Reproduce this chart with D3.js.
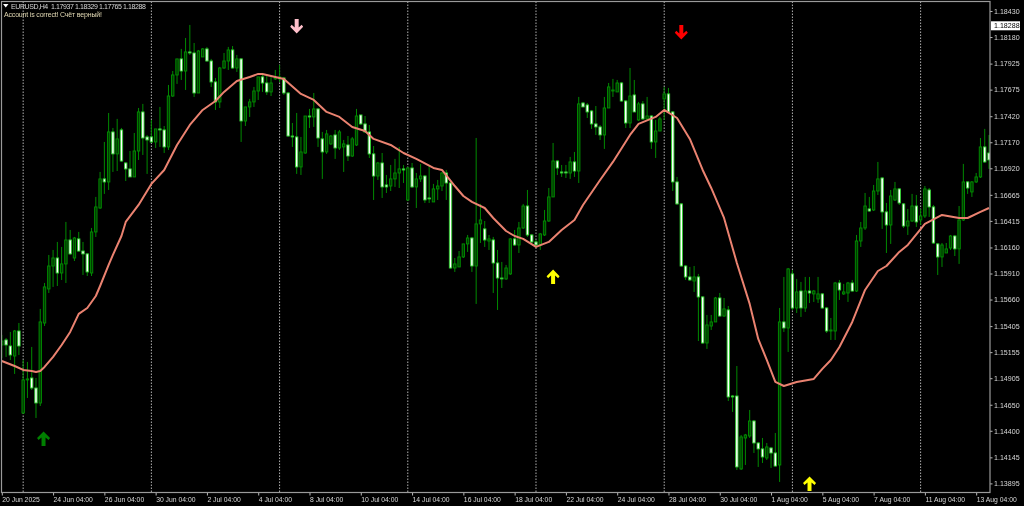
<!DOCTYPE html>
<html><head><meta charset="utf-8">
<script src="https://cdnjs.cloudflare.com/ajax/libs/d3/7.8.5/d3.min.js"></script>
<style>html,body{margin:0;padding:0;background:#000;overflow:hidden}svg{display:block;filter:blur(0.3px)}text{font-family:"Liberation Sans",sans-serif}</style>
</head><body><div id="c"></div>
<script>
const opens=[1.15224,1.15272,1.15214,1.15118,1.15358,1.14571,1.14888,1.14907,1.14811,1.14667,1.15435,1.15762,1.15982,1.16059,1.15915,1.16002,1.16232,1.16059,1.16242,1.16126,1.16098,1.15915,1.16309,1.16539,1.16818,1.16789,1.17269,1.17058,1.17288,1.16971,1.16914,1.16837,1.17086,1.17461,1.17221,1.17221,1.17173,1.17298,1.17288,1.17125,1.17614,1.17816,1.17970,1.17854,1.18037,1.18027,1.17643,1.17989,1.18066,1.17950,1.17749,1.17557,1.17883,1.17950,1.18056,1.17883,1.17970,1.17374,1.17509,1.17557,1.17662,1.17797,1.17739,1.17653,1.17778,1.17778,1.17787,1.17643,1.17230,1.17221,1.16933,1.17067,1.17422,1.17413,1.17490,1.17202,1.17077,1.17154,1.17240,1.17115,1.17125,1.17144,1.17038,1.17144,1.17432,1.17346,1.17269,1.17058,1.16846,1.16971,1.16760,1.16750,1.16818,1.16875,1.16914,1.16616,1.16923,1.16741,1.16818,1.16846,1.16635,1.16597,1.16722,1.16750,1.16875,1.16779,1.15963,1.15973,1.16069,1.16194,1.16251,1.15982,1.16386,1.16338,1.16222,1.16232,1.16011,1.15867,1.15858,1.15906,1.16242,1.16184,1.16347,1.16558,1.16280,1.16213,1.16184,1.16280,1.16414,1.16645,1.16990,1.16885,1.16885,1.16875,1.16981,1.16894,1.17547,1.17528,1.17470,1.17346,1.17317,1.17240,1.17499,1.17662,1.17653,1.17739,1.17566,1.17355,1.17624,1.17384,1.17538,1.17394,1.17422,1.17173,1.17278,1.17586,1.17634,1.17461,1.16789,1.16578,1.15982,1.15877,1.15838,1.15877,1.15685,1.15243,1.15406,1.15445,1.15675,1.15502,1.15560,1.14734,1.14734,1.14034,1.14331,1.14350,1.14494,1.14283,1.14226,1.14139,1.14235,1.14187,1.14072,1.15445,1.15387,1.15906,1.15579,1.15742,1.15579,1.15742,1.15714,1.15666,1.15714,1.15579,1.15358,1.15358,1.15819,1.15714,1.15723,1.15819,1.15742,1.16222,1.16347,1.16530,1.16520,1.16702,1.16827,1.16501,1.16376,1.16616,1.16722,1.16578,1.16366,1.16414,1.16558,1.16424,1.16462,1.16712,1.16549,1.16194,1.16069,1.16107,1.16155,1.16270,1.16146,1.16424,1.16789,1.16693,1.16789,1.16837,1.17125,1.17067];
const highs=[1.15320,1.15291,1.15349,1.15368,1.15435,1.15080,1.15061,1.15205,1.14907,1.15570,1.15819,1.16088,1.16136,1.16213,1.16165,1.16405,1.16328,1.16261,1.16309,1.16213,1.16107,1.16347,1.16645,1.16885,1.17173,1.17451,1.17307,1.17394,1.17307,1.16981,1.17086,1.17259,1.17499,1.17538,1.17240,1.17384,1.17298,1.17509,1.17326,1.17720,1.17854,1.17970,1.18066,1.18171,1.18296,1.18123,1.18056,1.18075,1.18085,1.17970,1.17787,1.17893,1.18027,1.18085,1.18094,1.18008,1.17979,1.17509,1.17586,1.17701,1.17797,1.17835,1.17816,1.17797,1.17864,1.17912,1.17797,1.17653,1.17355,1.17451,1.17221,1.17422,1.17490,1.17643,1.17499,1.17269,1.17288,1.17240,1.17288,1.17288,1.17192,1.17230,1.17221,1.17490,1.17432,1.17422,1.17336,1.17134,1.16981,1.17067,1.16856,1.16952,1.17010,1.17125,1.16952,1.16933,1.16971,1.16875,1.16962,1.16856,1.16942,1.16770,1.16808,1.16885,1.16904,1.16789,1.16059,1.16126,1.16194,1.16280,1.16261,1.17211,1.16578,1.16414,1.16280,1.16261,1.16136,1.16021,1.15992,1.16251,1.16328,1.16405,1.16578,1.16712,1.16290,1.16232,1.16299,1.16520,1.16731,1.17163,1.17000,1.16952,1.16952,1.17029,1.17077,1.17605,1.17557,1.17547,1.17480,1.17518,1.17336,1.17605,1.17739,1.17778,1.17768,1.17749,1.17576,1.17883,1.17768,1.17557,1.17566,1.17605,1.17432,1.17384,1.17413,1.17701,1.17691,1.17470,1.16837,1.16587,1.15992,1.15973,1.15982,1.15906,1.15694,1.15512,1.15512,1.15685,1.15723,1.15675,1.15598,1.14744,1.15022,1.14360,1.14370,1.14600,1.14504,1.14293,1.14331,1.14283,1.14245,1.14379,1.15579,1.15877,1.15963,1.15944,1.15858,1.15829,1.15877,1.15877,1.15752,1.15877,1.15723,1.15589,1.15483,1.15829,1.15848,1.15810,1.15829,1.15848,1.16280,1.16405,1.16683,1.16645,1.16760,1.16981,1.16837,1.16587,1.16712,1.16789,1.16731,1.16587,1.16530,1.16674,1.16664,1.16530,1.16750,1.16731,1.16568,1.16203,1.16203,1.16203,1.16280,1.16280,1.16558,1.16962,1.16798,1.16798,1.16875,1.17211,1.17298,1.17240];
const lows=[1.15099,1.15109,1.15080,1.14946,1.15128,1.14562,1.14715,1.14792,1.14523,1.14638,1.15406,1.15723,1.15781,1.15790,1.15848,1.15819,1.16088,1.16030,1.16117,1.15896,1.15886,1.15886,1.16261,1.16530,1.16674,1.16712,1.16885,1.16894,1.16981,1.16798,1.16837,1.16837,1.17000,1.17048,1.16866,1.17163,1.17115,1.17125,1.17067,1.17096,1.17605,1.17730,1.17768,1.17672,1.18008,1.17605,1.17643,1.17989,1.17941,1.17701,1.17480,1.17499,1.17874,1.17864,1.17874,1.17845,1.17173,1.17326,1.17413,1.17509,1.17576,1.17653,1.17624,1.17614,1.17768,1.17749,1.17624,1.17221,1.17125,1.16866,1.16856,1.17058,1.17307,1.17317,1.17125,1.16818,1.17058,1.17144,1.17010,1.17096,1.16885,1.16990,1.17029,1.17134,1.17336,1.17259,1.17019,1.16616,1.16808,1.16635,1.16683,1.16702,1.16741,1.16731,1.16779,1.16606,1.16731,1.16539,1.16789,1.16587,1.16587,1.16597,1.16616,1.16702,1.16616,1.15954,1.15925,1.15973,1.16059,1.16117,1.15925,1.15618,1.16203,1.16165,1.16136,1.15723,1.15560,1.15771,1.15848,1.15896,1.16174,1.16107,1.16338,1.16261,1.16203,1.16165,1.16136,1.16270,1.16405,1.16645,1.16856,1.16837,1.16827,1.16818,1.16837,1.16779,1.17509,1.17403,1.17298,1.17240,1.17192,1.17106,1.17499,1.17605,1.17653,1.17557,1.17307,1.17307,1.17461,1.17374,1.17384,1.17384,1.17106,1.17019,1.17278,1.17384,1.17451,1.16702,1.16568,1.15973,1.15848,1.15838,1.15733,1.15262,1.15234,1.15186,1.15368,1.15445,1.15493,1.15493,1.14686,1.14581,1.14024,1.14024,1.14072,1.14331,1.14187,1.14053,1.14091,1.14120,1.14043,1.14053,1.13909,1.15349,1.15157,1.15560,1.15531,1.15493,1.15541,1.15627,1.15637,1.15627,1.15570,1.15339,1.15272,1.15272,1.15656,1.15704,1.15637,1.15733,1.15733,1.16165,1.16328,1.16501,1.16510,1.16664,1.16338,1.16107,1.16194,1.16606,1.16568,1.16347,1.16280,1.16405,1.16357,1.16376,1.16443,1.16453,1.16194,1.15896,1.15973,1.16107,1.16136,1.16078,1.16002,1.16414,1.16674,1.16645,1.16779,1.16827,1.16971,1.16914];
const closes=[1.15262,1.15224,1.15128,1.15358,1.15214,1.14888,1.14898,1.14811,1.14667,1.15445,1.15781,1.15982,1.16059,1.15915,1.16002,1.16232,1.16098,1.16251,1.16126,1.16098,1.15925,1.16309,1.16549,1.16818,1.16789,1.17269,1.17058,1.17202,1.16990,1.16914,1.16837,1.17086,1.17461,1.17211,1.17192,1.17173,1.17298,1.17288,1.17125,1.17614,1.17816,1.17970,1.17854,1.18037,1.18027,1.17643,1.18046,1.18066,1.17950,1.17749,1.17557,1.17883,1.17950,1.18056,1.17883,1.17970,1.17374,1.17509,1.17557,1.17662,1.17797,1.17739,1.17653,1.17739,1.17787,1.17797,1.17643,1.17230,1.17221,1.16933,1.17077,1.17422,1.17413,1.17490,1.17211,1.17077,1.17250,1.17230,1.17115,1.17269,1.17154,1.17038,1.17202,1.17422,1.17346,1.17269,1.17058,1.16846,1.16971,1.16741,1.16741,1.16818,1.16875,1.16914,1.16904,1.16923,1.16741,1.16818,1.16846,1.16616,1.16626,1.16722,1.16750,1.16875,1.16779,1.15963,1.16002,1.16069,1.16194,1.16251,1.15982,1.16386,1.16424,1.16232,1.16242,1.16011,1.15867,1.15858,1.15963,1.16242,1.16184,1.16347,1.16558,1.16280,1.16213,1.16184,1.16290,1.16414,1.16645,1.16990,1.16923,1.16875,1.16875,1.16981,1.16894,1.17538,1.17509,1.17461,1.17346,1.17317,1.17240,1.17499,1.17701,1.17672,1.17739,1.17566,1.17355,1.17614,1.17461,1.17538,1.17394,1.17422,1.17173,1.17278,1.17394,1.17634,1.17461,1.16789,1.16578,1.15982,1.15877,1.15848,1.15877,1.15685,1.15243,1.15416,1.15445,1.15675,1.15502,1.15570,1.14725,1.14725,1.14053,1.14341,1.14360,1.14494,1.14283,1.14226,1.14149,1.14245,1.14187,1.14062,1.15445,1.15387,1.15954,1.15579,1.15733,1.15579,1.15742,1.15723,1.15742,1.15714,1.15579,1.15358,1.15368,1.15819,1.15752,1.15733,1.15819,1.15742,1.16222,1.16347,1.16558,1.16510,1.16702,1.16818,1.16501,1.16376,1.16654,1.16722,1.16587,1.16366,1.16414,1.16558,1.16405,1.16462,1.16722,1.16549,1.16203,1.16069,1.16184,1.16146,1.16270,1.16146,1.16424,1.16789,1.16731,1.16789,1.16837,1.17125,1.16981,1.17000];

const maBars=[0,3,5,7,8,9,10,12,14,16,18,20,22,23,25,26,28,29,32,35,38,41,44,47,50,52,55,58,60,61,66,70,73,76,79,82,85,87,91,94,97,101,103,106,108,110,113,115,118,120,122,125,128,131,134,136,140,143,147,149,153,155,158,161,164,166,169,172,175,177,179,181,183,186,190,192,194,196,199,202,205,207,210,212,216,220,224,226,229,231];
const maValues=[1.15070,1.15022,1.14984,1.14974,1.14965,1.14974,1.15013,1.15109,1.15224,1.15349,1.15522,1.15579,1.15694,1.15790,1.15992,1.16088,1.16270,1.16405,1.16568,1.16770,1.16904,1.17144,1.17336,1.17480,1.17566,1.17653,1.17758,1.17797,1.17826,1.17826,1.17778,1.17634,1.17576,1.17461,1.17413,1.17317,1.17278,1.17202,1.17144,1.17067,1.17010,1.16923,1.16904,1.16750,1.16654,1.16597,1.16539,1.16443,1.16318,1.16270,1.16242,1.16165,1.16213,1.16328,1.16424,1.16568,1.16808,1.16981,1.17240,1.17346,1.17413,1.17480,1.17403,1.17202,1.16904,1.16731,1.16443,1.16011,1.15618,1.15282,1.15080,1.14869,1.14830,1.14869,1.14898,1.14994,1.15080,1.15205,1.15445,1.15752,1.15934,1.15982,1.16117,1.16184,1.16386,1.16472,1.16443,1.16443,1.16501,1.16539];

const priceTicks=[1.18430,1.18180,1.17925,1.17675,1.17420,1.17170,1.16920,1.16665,1.16415,1.16160,1.15910,1.15660,1.15405,1.15155,1.14905,1.14650,1.14400,1.14145,1.13895];
const timeTickBars=[0,12,24,36,48,60,72,84,96,108,120,132,144,156,168,180,192,204,216,228];
const timeLabels=["20 Jun 2025","24 Jun 04:00","26 Jun 04:00","30 Jun 04:00","2 Jul 04:00","4 Jul 04:00","8 Jul 04:00","10 Jul 04:00","14 Jul 04:00","16 Jul 04:00","18 Jul 04:00","22 Jul 04:00","24 Jul 04:00","28 Jul 04:00","30 Jul 04:00","1 Aug 04:00","5 Aug 04:00","7 Aug 04:00","11 Aug 04:00","13 Aug 04:00"];
const weekSepBars=[5,35,65,95,125,155,185,215];
const arrowBars=[10,69,129,159,189];
const arrowPrices=[1.14322,1.18286,1.15877,1.18229,1.13890];
const arrowDirs=[1,-1,1,-1,1];
const arrowColors=["#007f00","#ffc0cb","#ffff00","#ff0000","#ffff00"];
const lastPrice=1.18288;
const headerText="EURUSD,H4  1.17937 1.18329 1.17765 1.18288";
const statusText="Account is correct! Счёт верный!";

const W=1024,H=506,frameL=1.5,frameT=1.5,frameR=990,frameB=492.5;
const svg=d3.select("#c").append("svg").attr("width",W).attr("height",H).style("background","#000");
const x=d3.scaleLinear().domain([0,231]).range([1.8,989]);
const y=d3.scaleLinear().domain([1.18430,1.13895]).range([11,483.4]);
svg.append("defs").append("clipPath").attr("id","plot").append("rect").attr("x",frameL).attr("y",frameT).attr("width",frameR-frameL).attr("height",frameB-frameT);
const plot=svg.append("g").attr("clip-path","url(#plot)");

plot.selectAll("line.sep").data(weekSepBars).join("line").attr("class","sep")
 .attr("x1",d=>x(d)).attr("x2",d=>x(d)).attr("y1",frameT).attr("y2",frameB)
 .attr("stroke","#b0b0b0").attr("stroke-width",1).attr("stroke-dasharray","1.5,1.5");

const idx=d3.range(opens.length);
plot.selectAll("line.wick").data(idx).join("line").attr("class","wick")
 .attr("x1",i=>x(i)).attr("x2",i=>x(i)).attr("y1",i=>y(highs[i])).attr("y2",i=>y(lows[i]))
 .attr("stroke","#008a00").attr("stroke-width",1);
plot.selectAll("rect.body").data(idx).join("rect").attr("class","body")
 .attr("x",i=>x(i)-1.2).attr("width",2.4)
 .attr("y",i=>y(Math.max(opens[i],closes[i])))
 .attr("height",i=>Math.max(0.6,Math.abs(y(opens[i])-y(closes[i]))))
 .attr("fill",i=>closes[i]>=opens[i]?"#003c00":"#ffffff")
 .attr("stroke",i=>closes[i]>=opens[i]?"#009000":"#30d030").attr("stroke-width",0.9);

plot.append("path").datum(maBars.map((b,i)=>[b,maValues[i]]))
 .attr("fill","none").attr("stroke","#ea8270").attr("stroke-width",2)
 .attr("stroke-linejoin","round")
 .attr("d",d3.line().x(d=>x(d[0])).y(d=>y(d[1])));

const arrowUp="M0,-7.5L6.5,-0.8L5,1.2L2,-1.5V7H-2V-1.5L-5,1.2L-6.5,-0.8Z";
plot.selectAll("path.arrow").data(arrowBars).join("path").attr("class","arrow")
 .attr("d",arrowUp)
 .attr("fill",(d,i)=>arrowColors[i])
 .attr("transform",(d,i)=>`translate(${x(d)-(i===0?1:0)},${y(arrowPrices[i])}) scale(1,${arrowDirs[i]})`);

const gy=svg.append("g").attr("transform",`translate(${frameR},0)`)
 .call(d3.axisRight(y).tickValues(priceTicks).tickFormat(d3.format(".5f")).tickSize(2.5).tickPadding(1.5));
const gx=svg.append("g").attr("transform",`translate(0,${frameB})`)
 .call(d3.axisBottom(x).tickValues(timeTickBars).tickFormat((d,i)=>timeLabels[i]).tickSize(3).tickPadding(1.5));
[gy,gx].forEach(g=>{g.select(".domain").remove();
 g.selectAll("line").attr("stroke","#b8b8b8");
 g.selectAll("text").attr("fill","#d8d8d8").style("font-size","7.1px");});
gx.selectAll("text").attr("text-anchor","start").attr("dy","0.72em").style("font-size","6.8px");

svg.append("rect").attr("x",frameL).attr("y",frameT).attr("width",frameR-frameL).attr("height",frameB-frameT)
 .attr("fill","none").attr("stroke","#9a9a9a").attr("stroke-width",1.2);

svg.append("rect").attr("x",991).attr("y",y(lastPrice)-4.5).attr("width",29).attr("height",9).attr("fill","#fff");
svg.append("text").attr("x",994).attr("y",y(lastPrice)).attr("dy","0.35em").attr("fill","#000").style("font-size","7.1px").text(d3.format(".5f")(lastPrice));

svg.append("path").attr("d","M3,4H8.5L5.75,7.5Z").attr("fill","#fff");
svg.append("text").attr("x",11).attr("y",9).attr("fill","#d8d8d8").style("font-size","7px").attr("textLength",135).style("white-space","pre").text(headerText);
svg.append("text").attr("x",4).attr("y",16.5).attr("fill","#e2d9b4").style("font-size","7px").attr("textLength",98).text(statusText);
</script></body></html>
